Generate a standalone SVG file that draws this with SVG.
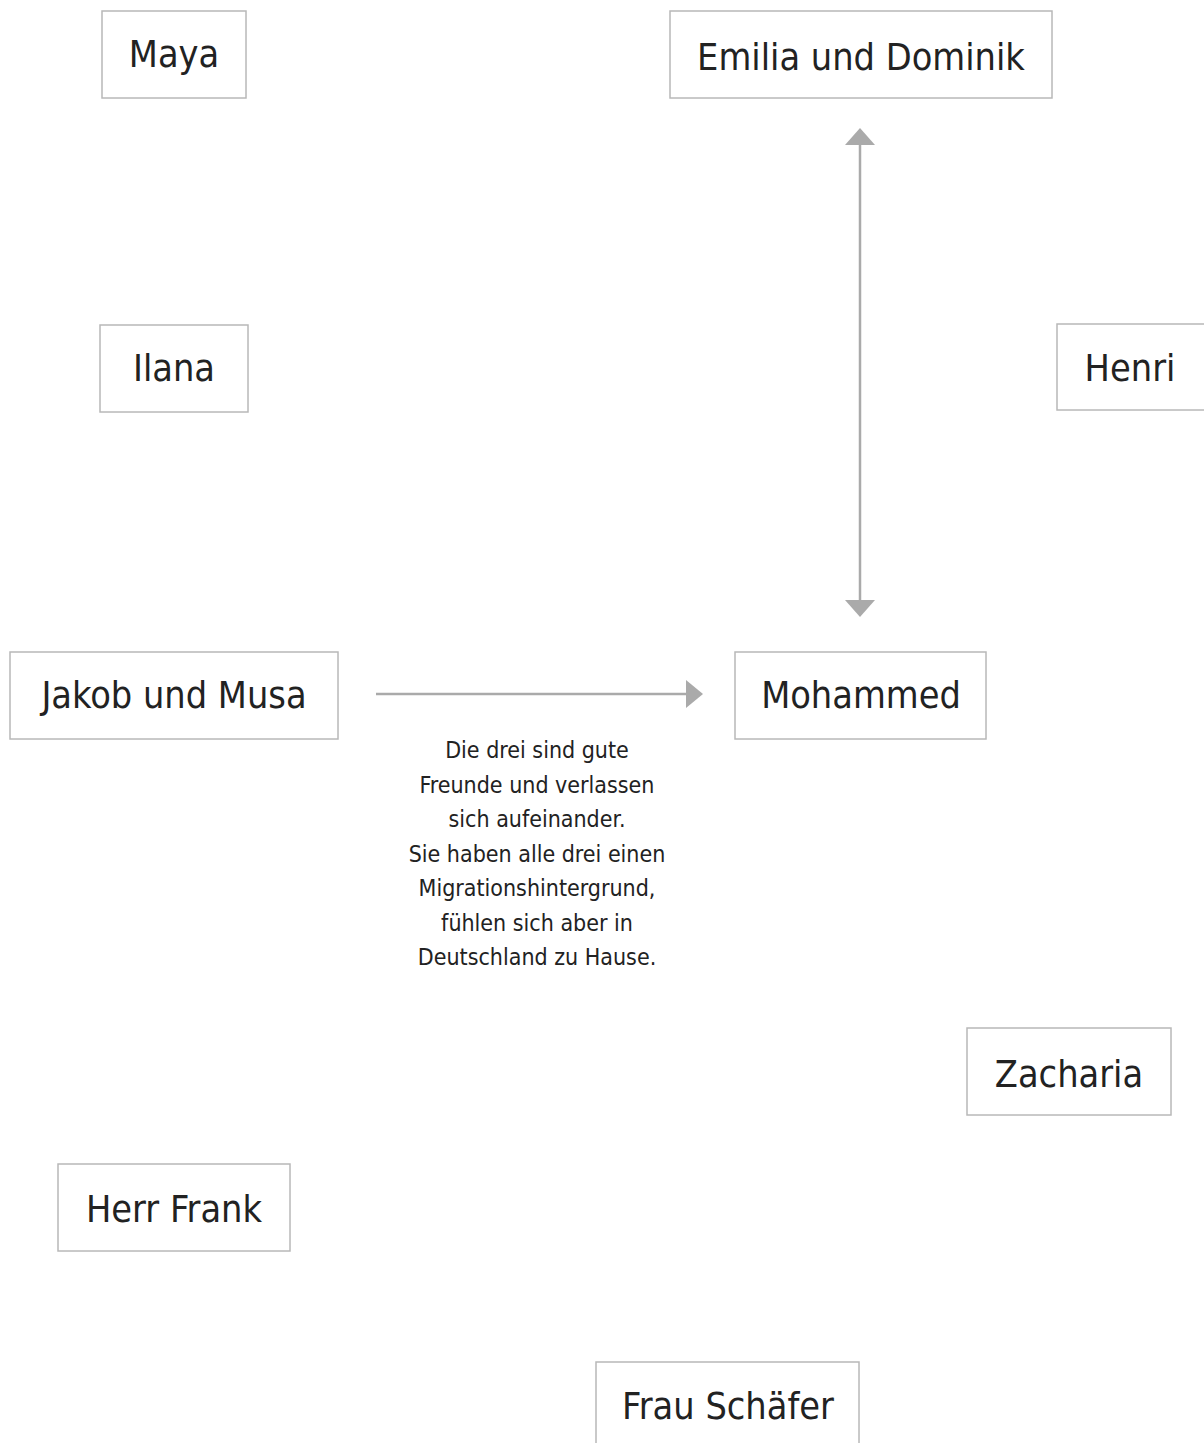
<svg xmlns="http://www.w3.org/2000/svg" width="1204" height="1443" viewBox="0 0 1204 1443">
<defs>
<style>
.box{fill:#fff;stroke:#b8b8b8;stroke-width:1.5}
.lbl{font-family:"DejaVu Sans Condensed","Liberation Sans Narrow","Open Sans",sans-serif;font-stretch:condensed;font-size:37.5px;fill:#222;text-anchor:middle}
.desc{font-family:"DejaVu Sans Condensed","Liberation Sans Narrow","Open Sans",sans-serif;font-stretch:condensed;font-size:23px;fill:#222;text-anchor:middle}
.edge{stroke:#aaa;stroke-width:2.5;fill:none}
</style>
<marker id="ah" viewBox="0 0 17 30" refX="0" refY="15" markerUnits="userSpaceOnUse" markerWidth="17" markerHeight="30" orient="auto-start-reverse">
<path d="M0,0 L17,15 L0,30 Z" fill="#aaa"/>
</marker>
<marker id="ah2" viewBox="0 0 17 28" refX="0" refY="14" markerUnits="userSpaceOnUse" markerWidth="17" markerHeight="28" orient="auto">
<path d="M0,0 L17,14 L0,28 Z" fill="#aaa"/>
</marker>
</defs>
<rect width="1204" height="1443" fill="#fff"/>
<g id="connectors">
<line class="edge" x1="860" y1="145" x2="860" y2="600" marker-start="url(#ah)" marker-end="url(#ah)"/>
<line class="edge" x1="376" y1="694" x2="686" y2="694" marker-end="url(#ah2)"/>
<text class="desc"><tspan x="537" y="758">Die drei sind gute</tspan><tspan x="537" y="793">Freunde und verlassen</tspan><tspan x="537" y="827">sich aufeinander.</tspan><tspan x="537" y="862">Sie haben alle drei einen</tspan><tspan x="537" y="896">Migrationshintergrund,</tspan><tspan x="537" y="931">fühlen sich aber in</tspan><tspan x="537" y="965">Deutschland zu Hause.</tspan></text>
</g>
<g id="maya"><rect class="box" x="102" y="11" width="144" height="87"/><text class="lbl" x="174" y="67">Maya</text></g>
<g id="emilia"><rect class="box" x="670" y="11" width="382" height="87"/><text class="lbl" x="861" y="70">Emilia und Dominik</text></g>
<g id="ilana"><rect class="box" x="100" y="325" width="148" height="87"/><text class="lbl" x="174" y="381">Ilana</text></g>
<g id="henri"><rect class="box" x="1057" y="324" width="160" height="86"/><text class="lbl" x="1130" y="381">Henri</text></g>
<g id="jakob"><rect class="box" x="10" y="652" width="328" height="87"/><text class="lbl" x="174" y="708">Jakob und Musa</text></g>
<g id="mohammed"><rect class="box" x="735" y="652" width="251" height="87"/><text class="lbl" x="861" y="708">Mohammed</text></g>
<g id="zacharia"><rect class="box" x="967" y="1028" width="204" height="87"/><text class="lbl" x="1069" y="1087">Zacharia</text></g>
<g id="frank"><rect class="box" x="58" y="1164" width="232" height="87"/><text class="lbl" x="174" y="1222">Herr Frank</text></g>
<g id="schaefer"><rect class="box" x="596" y="1362" width="263" height="95"/><text class="lbl" x="728" y="1419">Frau Schäfer</text></g>
</svg>
